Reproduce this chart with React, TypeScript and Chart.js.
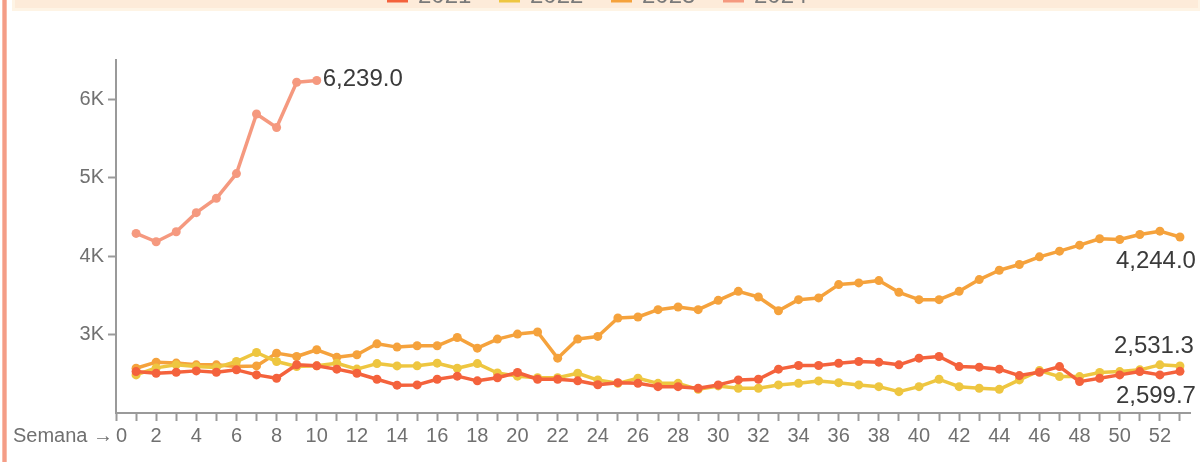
import { useEffect, useRef } from "react";
import { Chart, registerables } from "chart.js";

Chart.register(...registerables);

// ---------- data ----------
const seriesNames = ["2021", "2022", "2023", "2024"];

const weeks = [
  1, 2, 3, 4, 5, 6, 7, 8, 9, 10, 11, 12, 13, 14, 15, 16, 17, 18, 19, 20,
  21, 22, 23, 24, 25, 26, 27, 28, 29, 30, 31, 32, 33, 34, 35, 36, 37, 38, 39, 40,
  41, 42, 43, 44, 45, 46, 47, 48, 49, 50, 51, 52, 53,
];
const weeks2024 = [1, 2, 3, 4, 5, 6, 7, 8, 9, 10];

const values2021 = [
  2528, 2507, 2520, 2537, 2520, 2550, 2486, 2443, 2615, 2601,
  2559, 2507, 2430, 2355, 2358, 2430, 2470, 2410, 2450, 2516,
  2430, 2430, 2410, 2360, 2387, 2378, 2336, 2336, 2315, 2358,
  2422, 2430, 2559, 2605, 2605, 2634, 2656, 2648, 2614, 2699,
  2720, 2592, 2584, 2559, 2477, 2520, 2592, 2400, 2443, 2486,
  2528, 2486, 2531.3,
];
const values2022 = [
  2486, 2575, 2614, 2592, 2579, 2656, 2771, 2656, 2592, 2601,
  2634, 2560, 2630, 2600, 2601, 2635, 2571, 2630, 2510, 2470,
  2450, 2450, 2507, 2420, 2378, 2443, 2378, 2378, 2302, 2345,
  2315, 2315, 2358, 2378, 2409, 2387, 2358, 2336, 2272, 2336,
  2430, 2336, 2315, 2302, 2422, 2541, 2464, 2464, 2516, 2528,
  2550, 2614, 2599.7,
];
const values2023 = [
  2571, 2648, 2636, 2614, 2614, 2592, 2600, 2763, 2720, 2806,
  2712, 2742, 2882, 2840, 2857, 2857, 2963, 2827, 2942, 3006,
  3032, 2699, 2942, 2976, 3211, 3224, 3317, 3352, 3317, 3436,
  3551, 3479, 3304, 3445, 3467, 3637, 3658, 3688, 3538, 3445,
  3445, 3551, 3701, 3820, 3893, 3991, 4063, 4140, 4221, 4212,
  4276, 4318, 4244,
];
const values2024 = [4289, 4183, 4311, 4554, 4737, 5052, 5811, 5640, 6216, 6239];

const xTickWeeks = [
  0, 1, 2, 3, 4, 5, 6, 7, 8, 9, 10, 11, 12, 13, 14, 15, 16, 17, 18, 19, 20,
  21, 22, 23, 24, 25, 26, 27, 28, 29, 30, 31, 32, 33, 34, 35, 36, 37, 38, 39, 40,
  41, 42, 43, 44, 45, 46, 47, 48, 49, 50, 51, 52, 53,
];
const yTickValues = [3000, 4000, 5000, 6000];
const xAxisLabel = "Semana →";

// ---------- styles ----------
const W = 1201;
const H = 462;
const FONT = "'Liberation Sans', Arial, Helvetica, sans-serif";
const colors: Record<string, string> = {
  "2021": "#f4623c",
  "2022": "#eec640",
  "2023": "#f5a23c",
  "2024": "#f5997f",
};
const legendBoxX: Record<string, number> = { "2021": 387, "2022": 499, "2023": 611, "2024": 723 };
const endLabelPos: Record<string, { dx: number; dy: number; align: CanvasTextAlign }> = {
  "2024": { dx: 6, dy: -1, align: "left" },
  "2023": { dx: 16, dy: 24, align: "right" },
  "2021": { dx: 14, dy: -25, align: "right" },
  "2022": { dx: 16, dy: 30, align: "right" },
};

const fmt = (v: number) =>
  v.toLocaleString("en-US", { minimumFractionDigits: 1, maximumFractionDigits: 1 });

const decorPlugin = {
  id: "decor",
  beforeDraw(chart: any) {
    const ctx = chart.ctx as CanvasRenderingContext2D;
    ctx.save();
    ctx.fillStyle = "#ffffff";
    ctx.fillRect(0, 0, W, H);
    // left accent line
    ctx.fillStyle = "#f9bcaa";
    ctx.fillRect(2, 0, 5, H);
    ctx.fillStyle = "#f49d87";
    ctx.fillRect(3, 0, 3, H);
    // legend band (cut at the top)
    ctx.fillStyle = "#fef4e5";
    ctx.fillRect(12, 0, W - 13, 11);
    ctx.fillStyle = "#fdebd9";
    ctx.fillRect(15, 0, W - 18, 8);
    ctx.font = `24px ${FONT}`;
    ctx.textAlign = "left";
    ctx.textBaseline = "alphabetic";
    seriesNames.forEach((name) => {
      const bx = legendBoxX[name];
      ctx.fillStyle = colors[name];
      ctx.fillRect(bx, -20, 21, 22.5);
      ctx.fillStyle = "#7a7a7a";
      ctx.fillText(name, bx + 31, 2.5);
    });
    ctx.restore();
  },
  afterDraw(chart: any) {
    const ctx = chart.ctx as CanvasRenderingContext2D;
    ctx.save();
    // x axis label
    const xs = chart.scales.x;
    ctx.font = `20px ${FONT}`;
    ctx.fillStyle = "#707070";
    ctx.textAlign = "right";
    ctx.textBaseline = "middle";
    ctx.fillText(xAxisLabel, xs.left - 3, xs.top + 23);
    // end labels
    ctx.font = `24px ${FONT}`;
    ctx.fillStyle = "#3a3a3a";
    chart.data.datasets.forEach((ds: any, i: number) => {
      const meta = chart.getDatasetMeta(i);
      const pts = meta.data;
      if (!pts.length) return;
      const p = pts[pts.length - 1];
      const raw = ds.data[ds.data.length - 1].y;
      const pos = endLabelPos[ds.label];
      ctx.textAlign = pos.align;
      ctx.textBaseline = "middle";
      ctx.fillText(fmt(raw), p.x + pos.dx, p.y + pos.dy);
    });
    ctx.restore();
  },
};

function mkData(xs: number[], ys: number[]) {
  return xs.map((x, i) => ({ x, y: ys[i] }));
}

export default function App() {
  const ref = useRef<HTMLCanvasElement | null>(null);

  useEffect(() => {
    document.body.style.margin = "0";
    const canvas = ref.current;
    if (!canvas) return;
    const seriesData: Record<string, { x: number; y: number }[]> = {
      "2021": mkData(weeks, values2021),
      "2022": mkData(weeks, values2022),
      "2023": mkData(weeks, values2023),
      "2024": mkData(weeks2024, values2024),
    };
    const tickGrey = "#9a9a9a";
    const chart = new Chart(canvas, {
      type: "line",
      data: {
        datasets: seriesNames.map((name) => ({
          label: name,
          data: seriesData[name],
          borderColor: colors[name],
          backgroundColor: colors[name],
          pointBackgroundColor: colors[name],
          pointBorderColor: colors[name],
          borderWidth: 3.5,
          pointRadius: 4.5,
          pointBorderWidth: 0,
          borderJoinStyle: "round" as const,
          borderCapStyle: "round" as const,
          tension: 0,
          fill: false,
        })),
      },
      options: {
        responsive: false,
        animation: false,
        devicePixelRatio: 1,
        parsing: false as any,
        layout: { padding: { top: 60, right: 11, bottom: 0, left: 0 } },
        plugins: {
          legend: { display: false },
          tooltip: { enabled: false },
        },
        scales: {
          x: {
            type: "linear",
            min: 0,
            max: 53.5,
            afterBuildTicks: (s: any) => {
              s.ticks = xTickWeeks.map((v) => ({ value: v }));
            },
            afterFit: (s: any) => {
              s.height = 49;
            },
            grid: {
              display: true,
              drawOnChartArea: false,
              drawTicks: true,
              tickLength: 8,
              tickWidth: 2,
              tickColor: tickGrey,
            },
            border: { display: true, color: tickGrey, width: 2 },
            ticks: {
              autoSkip: false,
              maxRotation: 0,
              minRotation: 0,
              align: "inner",
              padding: 3,
              color: "#707070",
              font: { family: FONT, size: 20 },
              callback: (v: any) => (Number(v) % 2 === 0 ? String(v) : ""),
            },
          },
          y: {
            type: "linear",
            min: 2000,
            max: 6500,
            afterBuildTicks: (s: any) => {
              s.ticks = yTickValues.map((v) => ({ value: v }));
            },
            afterFit: (s: any) => {
              s.width = 116;
            },
            grid: {
              display: true,
              drawOnChartArea: false,
              drawTicks: true,
              tickLength: 8,
              tickWidth: 2,
              tickColor: tickGrey,
            },
            border: { display: true, color: tickGrey, width: 2 },
            ticks: {
              padding: 4,
              color: "#707070",
              font: { family: FONT, size: 20 },
              callback: (v: any) => `${Number(v) / 1000}K`,
            },
          },
        },
      },
      plugins: [decorPlugin],
    });
    return () => chart.destroy();
  }, []);

  return (
    <div style={{ position: "fixed", left: 0, top: 0, width: W, height: H }}>
      <canvas ref={ref} width={W} height={H} style={{ width: W, height: H, display: "block" }} />
    </div>
  );
}
